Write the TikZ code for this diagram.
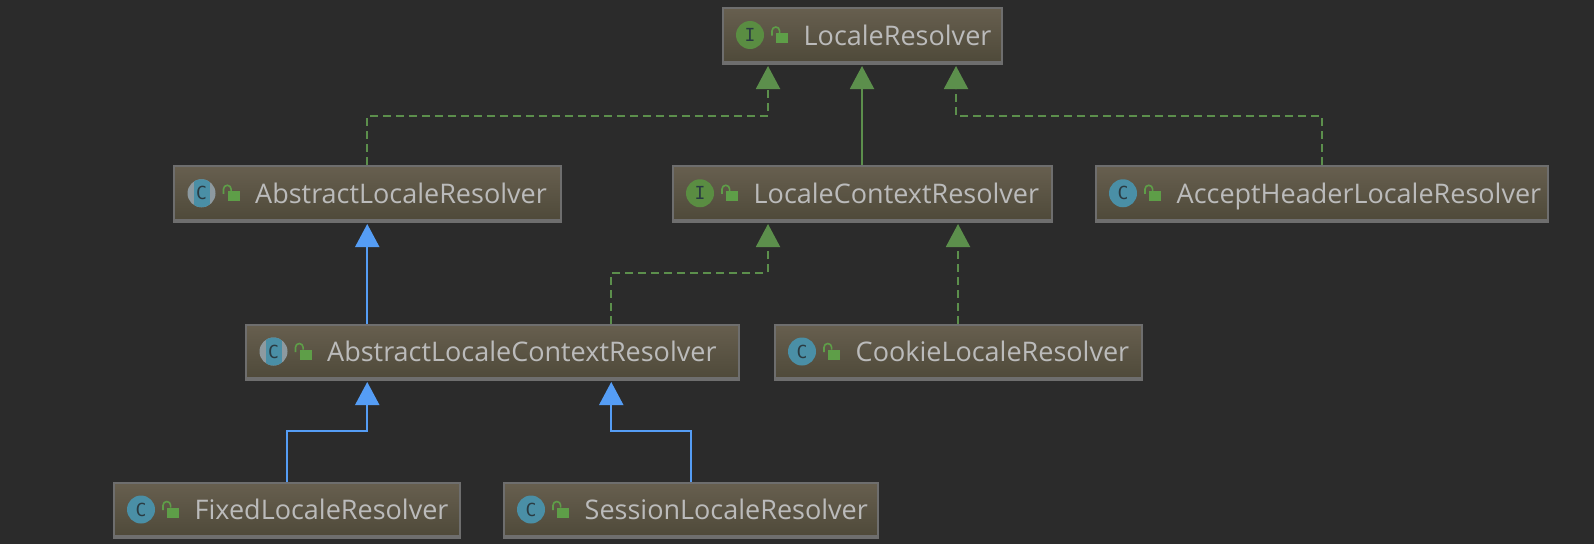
\documentclass[tikz,border=0pt]{standalone}
\usepackage{fontspec}
\setmainfont{Open Sans}
\newfontfamily\iconfont{DejaVu Sans Mono}
\usetikzlibrary{arrows.meta}
\definecolor{bgc}{HTML}{2B2B2B}
\definecolor{boxtop}{HTML}{675F4F}
\definecolor{boxbot}{HTML}{4E4939}
\definecolor{boxedge}{HTML}{6E6E6E}
\definecolor{txt}{HTML}{BBBBBB}
\definecolor{grn}{HTML}{5C8F4C}
\definecolor{lockc}{HTML}{5E9E48}
\definecolor{ifc}{HTML}{5A8D42}
\definecolor{cls}{HTML}{4A8FA6}
\definecolor{absg}{HTML}{8D9AA0}
\definecolor{blu}{HTML}{559DF5}
\definecolor{icontxt}{HTML}{2A3B42}
\tikzset{
  x=1pt,y=-1pt,
  classbox/.style={draw=boxedge,line width=2pt,top color=boxtop,bottom color=boxbot,inner sep=0pt,outer sep=auto},
  label text/.style={text=txt,font=\fontsize{27}{30}\selectfont,anchor=base west,inner sep=0pt},
  icon text/.style={text=icontxt,font=\fontsize{18}{20}\selectfont\iconfont,inner sep=0pt},
  impl/.style={draw=grn,line width=2pt,dash pattern=on 8pt off 5pt,-{Triangle[width=24pt,length=23pt,fill=grn]},shorten >=1.5pt},
  implsolid/.style={draw=grn,line width=2pt,-{Triangle[width=24pt,length=23pt,fill=grn]},shorten >=1.5pt},
  ext/.style={draw=blu,line width=2pt,-{Triangle[width=24pt,length=23pt,fill=blu]},shorten >=1.5pt},
}
% #1 name, #2 left, #3 top, #4 right, #5 bottom, #6 kind (I,C,A), #7 text
\newcommand{\clsbox}[7]{%
  \pgfmathsetmacro{\bw}{#4-#2-1}\pgfmathsetmacro{\bh}{#5-#3-1}%
  \pgfmathsetmacro{\cx}{(#2+#4)/2}\pgfmathsetmacro{\cy}{(#3+#5)/2}%
  \pgfmathsetmacro{\ix}{#2+28}\pgfmathsetmacro{\lx}{#2+54}\pgfmathsetmacro{\tx}{#2+81.5}%
  \node[classbox,minimum width=\bw pt,minimum height=\bh pt] (#1) at (\cx,\cy) {};
  \fill[boxedge] (#2-0.5,#5-3.5) rectangle (#4+0.5,#5+0.5);
  \ifx#6I
    \fill[ifc] (\ix,\cy-0.5) circle[radius=14];
    \node[icon text] (#1i) at (\ix,\cy-0.5) {I};
  \else\ifx#6C
    \fill[cls] (\ix,\cy-0.5) circle[radius=14];
    \node[icon text] (#1i) at (\ix,\cy-0.5) {C};
  \else
    \fill[absg] (\ix,\cy-0.5) circle[radius=14];
    \begin{scope}
      \clip (\ix,\cy-0.5) circle[radius=14];
      \fill[cls] (\ix-8,\cy-16) rectangle (\ix+8,\cy+16);
    \end{scope}
    \node[icon text] (#1i) at (\ix,\cy-0.5) {C};
  \fi\fi
  \fill[lockc] (\lx,\cy-2.5) rectangle (\lx+12,\cy+7.5);
  \draw[lockc,line width=1.6pt] (\lx-4,\cy+0) -- (\lx-4,\cy-4.7) arc[start angle=180,end angle=360,radius=3.8] -- (\lx+3.6,\cy-2.5);
  \node[label text] (#1t) at (\tx,\cy+9.5) {#7};
}
\begin{document}
\begin{tikzpicture}
\useasboundingbox (0,0) rectangle (1594,544);
\fill[bgc] (0,0) rectangle (1594,544);
\clsbox{lr}{722}{7}{1002}{64}{I}{LocaleResolver}
\clsbox{alr}{173.5}{165.5}{561}{222}{A}{AbstractLocaleResolver}
\clsbox{lcr}{672}{165.5}{1052}{222}{I}{LocaleContextResolver}
\clsbox{ahr}{1095}{165.5}{1548}{222}{C}{AcceptHeaderLocaleResolver}
\clsbox{acr}{245.5}{324}{739}{380}{A}{AbstractLocaleContextResolver}
\clsbox{clr}{774}{324}{1142}{380}{C}{CookieLocaleResolver}
\clsbox{flr}{113}{482}{460}{538}{C}{FixedLocaleResolver}
\clsbox{slr}{503}{482}{878}{538}{C}{SessionLocaleResolver}
\coordinate (bendA) at (0,115.5);
\coordinate (bendB) at (0,272.5);
\coordinate (bendC) at (0,431);
\coordinate (lrL) at ([xshift=-94pt]lr.south);
\coordinate (lrR) at ([xshift=94pt]lr.south);
\coordinate (lcrL) at ([xshift=-94pt]lcr.south);
\coordinate (lcrR) at ([xshift=96pt]lcr.south);
\coordinate (acrL) at ([xshift=-125pt]acr.south);
\coordinate (acrR) at ([xshift=119pt]acr.south);
\coordinate (acrT) at ([xshift=119pt]acr.north);
\draw[impl] (alr.north) -- (alr.north |- bendA) -- (lrL |- bendA) -- (lrL);
\draw[implsolid] (lcr.north) -- (lr.south);
\draw[impl] (ahr.north) -- (ahr.north |- bendA) -- (lrR |- bendA) -- (lrR);
\draw[ext] (acrL |- acr.north) -- (alr.south);
\draw[impl] (acrT) -- (acrT |- bendB) -- (lcrL |- bendB) -- (lcrL);
\draw[impl] (clr.north) -- (lcrR);
\draw[ext] (flr.north) -- (flr.north |- bendC) -- (acrL |- bendC) -- (acrL);
\draw[ext] (slr.north) -- (slr.north |- bendC) -- (acrR |- bendC) -- (acrR);
\end{tikzpicture}
\end{document}
